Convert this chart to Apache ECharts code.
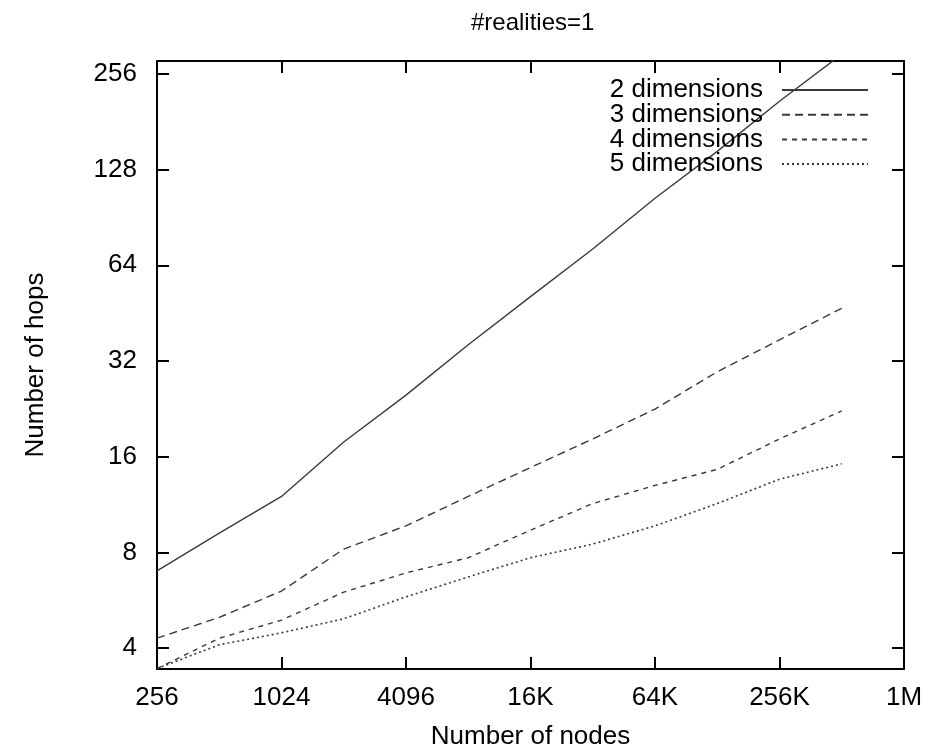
<!DOCTYPE html>
<html>
<head>
<meta charset="utf-8">
<script src="https://cdn.jsdelivr.net/npm/echarts@6/dist/echarts.min.js"></script>
<style>
html,body{margin:0;padding:0;background:#fff;}
#chart{width:940px;height:755px;}
</style>
</head>
<body>
<div id="chart"></div>
<script>
// ---- data ----
var titleText = '#realities=1';
var xName = 'Number of nodes';
var yName = 'Number of hops';
var nodes = [256, 512, 1024, 2048, 4096, 8192, 16384, 32768, 65536, 131072, 262144, 524288];
var hops2 = [7.0, 9.2, 12.0, 17.8, 25, 36, 51, 72, 104, 146, 210, 295];
var hops3 = [4.3, 5.0, 6.05, 8.2, 9.7, 12.0, 14.8, 18.2, 22.6, 29.6, 37.3, 46.9];
var hops4 = [3.45, 4.3, 4.9, 6.0, 6.9, 7.7, 9.4, 11.4, 13.0, 14.6, 18.2, 22.3];
var hops5 = [3.45, 4.1, 4.47, 4.95, 5.8, 6.7, 7.7, 8.5, 9.7, 11.4, 13.6, 15.2];
var seriesNames = ['2 dimensions', '3 dimensions', '4 dimensions', '5 dimensions'];
var xTickExponents = [8, 10, 12, 14, 16, 18, 20];
var xTickLabels = ['256', '1024', '4096', '16K', '64K', '256K', '1M'];
var yTickLabels = [4, 8, 16, 32, 64, 128, 256];
var xMin = 256, xMax = 1048576;
var yMin = 3.44, yMax = 281;

var FONT = 'Liberation Sans, Arial, Helvetica, sans-serif';
var lineColor = '#3a3a3a';

function pairs(ys) {
  return nodes.map(function (n, i) { return [n, ys[i]]; });
}

var styles = [
  {type: 'solid', width: 1.4},
  {type: [8, 5], width: 1.4},
  {type: [5, 5], width: 1.4},
  {type: [2, 3], width: 1.6}
];
var allData = [hops2, hops3, hops4, hops5];

var series = allData.map(function (d, i) {
  return {
    name: seriesNames[i],
    type: 'line',
    xAxisIndex: 0,
    yAxisIndex: 0,
    data: pairs(d),
    showSymbol: false,
    symbol: 'none',
    clip: true,
    lineStyle: {color: lineColor, width: styles[i].width, type: styles[i].type},
    itemStyle: {color: lineColor},
    animation: false
  };
});

var axisLine = {show: true, lineStyle: {color: '#000', width: 2}};
var tick = {show: true, inside: true, length: 12, lineStyle: {color: '#000', width: 2}};

var chart = echarts.init(document.getElementById('chart'), null, {renderer: 'canvas'});
chart.setOption({
  animation: false,
  backgroundColor: '#fff',
  title: {
    text: titleText,
    left: 466,
    top: 6,
    textStyle: {fontFamily: FONT, fontSize: 24, fontWeight: 'normal', color: '#000'}
  },
  grid: {left: 157, right: 36, top: 61, bottom: 83, containLabel: false},
  legend: {
    orient: 'vertical',
    right: 66,
    top: 72,
    align: 'right',
    itemGap: -1.3,
    itemWidth: 86,
    itemHeight: 24,
    itemStyle: {opacity: 0, borderWidth: 0},
    data: seriesNames,
    textStyle: {fontFamily: FONT, fontSize: 26, color: '#000', lineHeight: 24, padding: [0, 14, 0, 0]}
  },
  xAxis: [
    {
      type: 'log', logBase: 2, min: xMin, max: xMax, show: false, position: 'bottom'
    },
    {
      type: 'value', min: xTickExponents[0], max: xTickExponents[xTickExponents.length - 1], interval: 2,
      position: 'bottom',
      axisLine: axisLine, axisTick: tick, splitLine: {show: false},
      axisLabel: {
        margin: 16, fontFamily: FONT, fontSize: 26, color: '#000',
        formatter: function (v) {
          var k = xTickExponents.indexOf(Math.round(v));
          return k >= 0 ? xTickLabels[k] : '';
        }
      },
      name: xName, nameLocation: 'middle', nameGap: 55,
      nameTextStyle: {fontFamily: FONT, fontSize: 26, color: '#000'}
    },
    {
      type: 'value', min: xTickExponents[0], max: xTickExponents[xTickExponents.length - 1], interval: 2,
      position: 'top',
      axisLine: axisLine, axisTick: tick, splitLine: {show: false}, axisLabel: {show: false}
    }
  ],
  yAxis: [
    {
      type: 'log', logBase: 2, min: yMin, max: yMax, position: 'left',
      axisLine: axisLine, axisTick: tick, splitLine: {show: false}, minorTick: {show: false},
      axisLabel: {
        margin: 20, fontFamily: FONT, fontSize: 26, color: '#000',
        showMinLabel: false, showMaxLabel: false,
        formatter: function (v) {
          for (var i = 0; i < yTickLabels.length; i++) {
            if (Math.abs(v - yTickLabels[i]) < 1e-6 * yTickLabels[i]) return String(yTickLabels[i]);
          }
          return '';
        }
      },
      name: yName, nameLocation: 'middle', nameGap: 108, nameRotate: 90,
      nameTextStyle: {fontFamily: FONT, fontSize: 26, color: '#000'}
    },
    {
      type: 'log', logBase: 2, min: yMin, max: yMax, position: 'right',
      axisLine: axisLine, axisTick: tick, splitLine: {show: false}, axisLabel: {show: false}
    }
  ],
  series: series
});
</script>
</body>
</html>
